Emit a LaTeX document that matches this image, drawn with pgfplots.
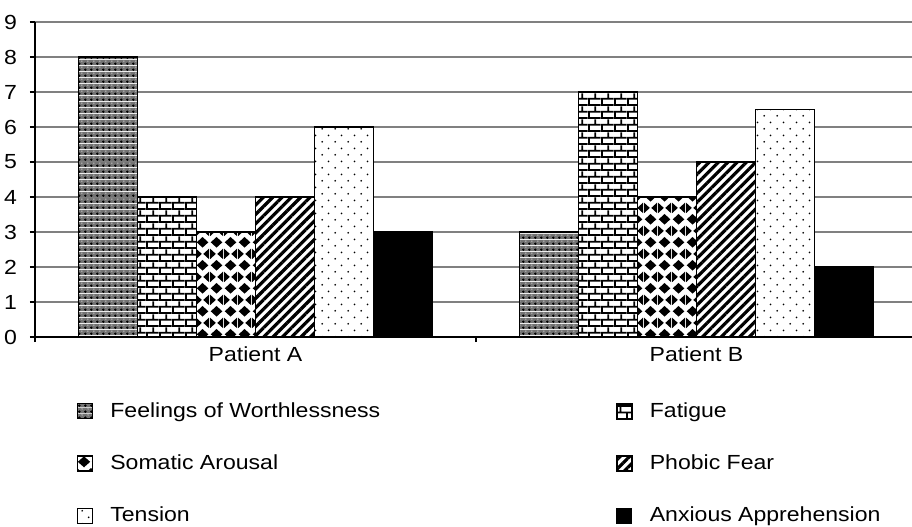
\documentclass[border=0pt]{standalone}
\usepackage{pgfplots}
\pgfplotsset{compat=1.18}
\usepackage{fontspec}
\setmainfont{Liberation Sans}[FakeStretch=1.13]
\usetikzlibrary{patterns,patterns.meta}

\pgfdeclarepatterninherentlycolored{worth}{\pgfpointorigin}{\pgfqpoint{3pt}{3pt}}{\pgfqpoint{3pt}{3pt}}{%
  \pgfsetfillcolor{black!55}\pgfpathrectangle{\pgfpointorigin}{\pgfqpoint{3pt}{3pt}}\pgfusepath{fill}%
  \pgfsetfillcolor{black}\pgfpathcircle{\pgfqpoint{0.75pt}{0.75pt}}{0.75pt}\pgfusepath{fill}%
  \pgfsetfillcolor{white}\pgfpathcircle{\pgfqpoint{2.25pt}{2.25pt}}{0.3pt}\pgfusepath{fill}%
}
\pgfdeclarepatternformonly{mybricks}{\pgfpointorigin}{\pgfqpoint{6.67pt}{6.67pt}}{\pgfqpoint{6.67pt}{6.67pt}}{%
  \pgfsetlinewidth{0.9pt}%
  \pgfpathmoveto{\pgfqpoint{0pt}{0.5pt}}\pgfpathlineto{\pgfqpoint{6.67pt}{0.5pt}}%
  \pgfpathmoveto{\pgfqpoint{0pt}{3.83pt}}\pgfpathlineto{\pgfqpoint{6.67pt}{3.83pt}}%
  \pgfpathmoveto{\pgfqpoint{0.5pt}{0.5pt}}\pgfpathlineto{\pgfqpoint{0.5pt}{3.83pt}}%
  \pgfpathmoveto{\pgfqpoint{3.83pt}{3.83pt}}\pgfpathlineto{\pgfqpoint{3.83pt}{6.67pt}}%
  \pgfusepath{stroke}%
}
\pgfdeclarepatternformonly{mydiamonds}{\pgfpointorigin}{\pgfqpoint{7pt}{11.67pt}}{\pgfqpoint{7pt}{11.67pt}}{%
  \pgfpathmoveto{\pgfqpoint{3.5pt}{0.2pt}}\pgfpathlineto{\pgfqpoint{6.6pt}{2.92pt}}%
  \pgfpathlineto{\pgfqpoint{3.5pt}{5.64pt}}\pgfpathlineto{\pgfqpoint{0.4pt}{2.92pt}}\pgfpathclose
  \pgfpathmoveto{\pgfqpoint{0pt}{6.03pt}}\pgfpathlineto{\pgfqpoint{3.1pt}{8.75pt}}%
  \pgfpathlineto{\pgfqpoint{0pt}{11.47pt}}\pgfpathclose
  \pgfpathmoveto{\pgfqpoint{7pt}{6.03pt}}\pgfpathlineto{\pgfqpoint{3.9pt}{8.75pt}}%
  \pgfpathlineto{\pgfqpoint{7pt}{11.47pt}}\pgfpathclose
  \pgfusepath{fill}%
}
\pgfdeclarepatternformonly{mydots}{\pgfpointorigin}{\pgfqpoint{6.67pt}{6.67pt}}{\pgfqpoint{6.67pt}{6.67pt}}{%
  \pgfpathcircle{\pgfqpoint{1.67pt}{1.67pt}}{0.5pt}%
  \pgfpathcircle{\pgfqpoint{5pt}{5pt}}{0.5pt}%
  \pgfusepath{fill}%
}

\pgfplotsset{
  mylegend/.style={legend image code/.code={%
    \draw[##1, line width=0.5pt] (0pt,-3.75pt) rectangle (7.5pt,3.75pt);
    \pgfpathmoveto{\pgfqpoint{15.5pt}{0pt}}\pgfusepath{discard}}},
}

\begin{document}
\begin{tikzpicture}
\useasboundingbox (0,0) rectangle (456pt,263pt);
\begin{axis}[
  at={(17.5pt,94.5pt)}, anchor=south west,
  scale only axis, width=441pt, height=157.5pt,
  xmin=-0.5, xmax=1.5, ymin=0, ymax=9,
  enlargelimits=false,
  ybar=0pt, bar width=29.5pt,
  axis x line*=bottom, axis y line*=left,
  axis line style={black, line width=0.8pt},
  xtick={-0.5,0.5,1.5}, x tick label as interval,
  xticklabels={Patient A,Patient B},
  ytick={0,1,...,9},
  ymajorgrids, xmajorgrids=false,
  grid style={gray, line width=0.7pt},
  tick align=outside, major tick length=2.5pt,
  tick style={black, line width=0.7pt},
  /pgf/number format/assume math mode=true,
  tick label style={font=\fontsize{10.2pt}{12pt}\selectfont},
  yticklabel style={xshift=-3pt},
  xticklabel style={yshift=1pt},
  legend columns=2,
  legend cell align=left,
  legend style={draw=none, fill=none, at={(axis description cs:0.047,-0.20)}, anchor=north west,
    inner sep=0pt, nodes={inner sep=1pt}, row sep=15.3pt,
    font=\fontsize{10.2pt}{12pt}\selectfont},
]
\addplot[draw=black, line width=0.8pt, pattern=worth, mylegend] coordinates {(0,8) (1,3)};
\addplot[draw=black, line width=0.8pt, preaction={fill=white}, pattern=mybricks, pattern color=black, mylegend] coordinates {(0,4) (1,7)};
\addplot[draw=black, line width=0.8pt, preaction={fill=white}, pattern=mydiamonds, pattern color=black, mylegend] coordinates {(0,3) (1,4)};
\addplot[draw=black, line width=0.8pt, preaction={fill=white}, pattern={Lines[angle=45,distance=3.3pt,line width=1.6pt]}, pattern color=black, mylegend] coordinates {(0,4) (1,5)};
\addplot[draw=black, line width=0.8pt, preaction={fill=white}, pattern=mydots, pattern color=black, mylegend] coordinates {(0,6) (1,6.5)};
\addplot[draw=black, line width=0.8pt, fill=black, mylegend] coordinates {(0,3) (1,2)};
\legend{\makebox[252pt][l]{Feelings of Worthlessness}, Fatigue, \makebox[252pt][l]{Somatic Arousal}, Phobic Fear, \makebox[252pt][l]{Tension}, Anxious Apprehension}
\end{axis}
\end{tikzpicture}
\end{document}
